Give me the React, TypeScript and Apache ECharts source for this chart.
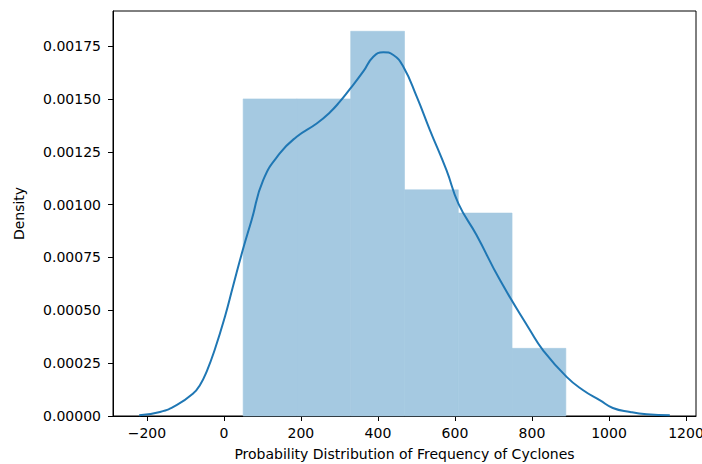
import React, { useEffect, useRef } from "react";
import * as echarts from "echarts";

// Histogram bins: left edge, right edge, density
const binEdges = [50, 189.7, 329.3, 469, 608.7, 748.3, 888];
const binDensity = [0.0015, 0.0015, 0.00182, 0.00107, 0.00096, 0.00032];

// Kernel density estimate, sampled along the x axis
const kdeX = [
  -220, -166, -123, -80, -62, -44, -23, 3, 23, 49, 72, 102, 145, 189, 241, 275, 301,
  327, 362, 388, 414, 440, 466, 501, 535, 578, 609, 656, 717, 795, 829, 890, 933, 977,
  1010, 1055, 1098, 1158,
];
const kdeY = [
  0.000003, 0.000019, 0.000051, 0.000106, 0.000147, 0.000214, 0.000318, 0.000472,
  0.000609, 0.000785, 0.000927, 0.001116, 0.001242, 0.001321, 0.001384, 0.001436,
  0.001487, 0.001546, 0.00163, 0.0017, 0.001721, 0.001708, 0.001652, 0.00151,
  0.001353, 0.001163, 0.001005, 0.000856, 0.000643, 0.000406, 0.000311, 0.000185,
  0.000122, 0.000074, 0.000038, 0.000019, 0.000008, 0.000003,
];

const xTicks = [-200, 0, 200, 400, 600, 800, 1000, 1200];
const yTicks = [0, 0.00025, 0.0005, 0.00075, 0.001, 0.00125, 0.0015, 0.00175];

const FONT = "DejaVu Sans";
const BLUE = "#1f77b4";
const BAR_FILL = "#a5c9e1"; // BLUE at 40% over white

export default function App() {
  const ref = useRef<HTMLDivElement>(null);

  useEffect(() => {
    if (!ref.current) return;
    const chart = echarts.init(ref.current, undefined, { renderer: "svg" });

    const bins = binDensity.map((d, i) => [binEdges[i], binEdges[i + 1], d]);
    const kde = kdeX.map((x, i) => [x, kdeY[i]]);

    chart.setOption({
      animation: false,
      backgroundColor: "#ffffff",
      grid: {
        left: 113,
        right: 6,
        top: 11,
        bottom: 48,
        outerBoundsMode: "none",
        show: true,
        borderColor: "#000",
        borderWidth: 1,
        backgroundColor: "transparent",
      },
      xAxis: {
        type: "value",
        min: -288,
        max: 1226,
        name: "Probability Distribution of Frequency of Cyclones",
        nameLocation: "middle",
        nameGap: 31,
        nameTextStyle: { fontFamily: FONT, fontSize: 14, color: "#000" },
        splitLine: { show: false },
        axisLine: { show: true, onZero: false, lineStyle: { color: "#000", width: 1 } },
        axisTick: {
          show: true,
          length: 5,
          customValues: xTicks,
          lineStyle: { color: "#000", width: 1 },
        },
        axisLabel: {
          customValues: xTicks,
          margin: 10,
          fontFamily: FONT,
          fontSize: 14,
          color: "#000",
          formatter: (v: number) => (v < 0 ? "\u2212" + Math.abs(v) : String(v)),
        },
      },
      yAxis: {
        type: "value",
        min: 0,
        max: 0.001916,
        name: "Density",
        nameLocation: "middle",
        nameGap: 87,
        nameTextStyle: { fontFamily: FONT, fontSize: 14, color: "#000" },
        splitLine: { show: false },
        axisLine: { show: true, onZero: false, lineStyle: { color: "#000", width: 1 } },
        axisTick: {
          show: true,
          length: 5,
          customValues: yTicks,
          lineStyle: { color: "#000", width: 1 },
        },
        axisLabel: {
          customValues: yTicks,
          margin: 12,
          fontFamily: FONT,
          fontSize: 14,
          color: "#000",
          formatter: (v: number) => v.toFixed(5),
        },
      },
      series: [
        {
          type: "custom",
          data: bins,
          encode: { x: [0, 1], y: 2 },
          renderItem: (params: any, api: any) => {
            const p0 = api.coord([api.value(0), api.value(2)]);
            const p1 = api.coord([api.value(1), 0]);
            return {
              type: "rect",
              shape: { x: p0[0], y: p0[1], width: p1[0] - p0[0], height: p1[1] - p0[1] },
              style: { fill: BAR_FILL, stroke: BAR_FILL, lineWidth: 0.6 },
            };
          },
          z: 1,
        },
        {
          type: "line",
          data: kde,
          smooth: true,
          showSymbol: false,
          symbol: "none",
          lineStyle: { color: BLUE, width: 2 },
          z: 2,
        },
      ],
    });

    return () => chart.dispose();
  }, []);

  return (
    <div
      ref={ref}
      style={{ position: "fixed", left: 0, top: 0, width: 702, height: 464, background: "#fff" }}
    />
  );
}
